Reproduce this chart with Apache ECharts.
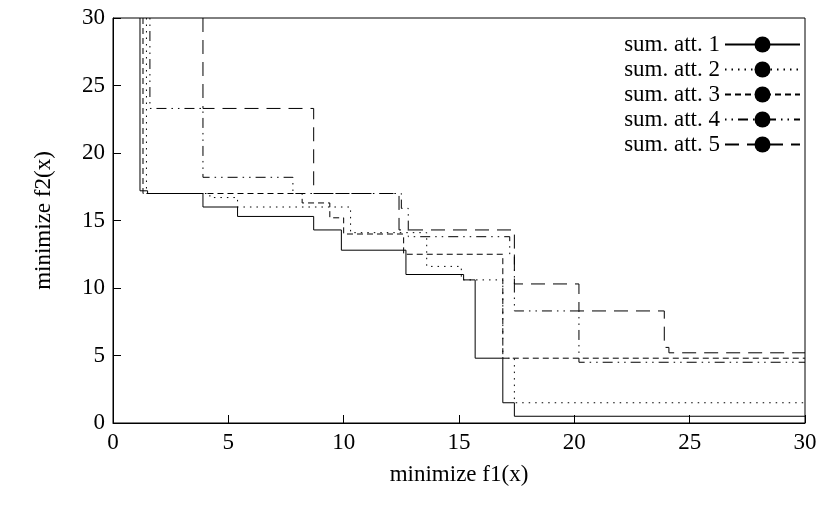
<!DOCTYPE html>
<html>
<head>
<meta charset="utf-8">
<script src="https://cdn.jsdelivr.net/npm/echarts@6/dist/echarts.min.js"></script>
<style>html,body{margin:0;background:#fff}#main{width:834px;height:515px}</style>
</head>
<body>
<div id="main"></div>
<script>
var names = ['sum. att. 1', 'sum. att. 2', 'sum. att. 3', 'sum. att. 4', 'sum. att. 5'];
var att1 = [[1.17,30],[1.17,17.2],[1.5,17.0],[3.9,16.0],[5.4,15.3],[8.7,14.3],[9.9,12.8],[12.7,11.0],[15.2,10.6],[15.7,4.8],[16.9,1.5],[17.4,0.5],[30,0.5]];
var att2 = [[1.45,30],[1.45,17.0],[4.2,16.7],[5.4,16.0],[10.3,14.1],[13.6,11.6],[15.1,10.6],[16.9,4.8],[17.4,1.5],[30,1.5]];
var att3 = [[1.3,30],[1.3,17.0],[8.2,16.3],[9.4,15.2],[10.0,14.0],[12.6,12.5],[16.9,4.8],[30,4.8]];
var att4 = [[1.6,30],[1.6,23.3],[3.9,18.2],[7.8,17.0],[12.5,15.9],[12.8,13.8],[17.2,12.5],[17.4,8.3],[20.2,4.5],[30,4.5]];
var att5 = [[3.9,30],[3.9,23.3],[8.7,17.0],[12.4,14.3],[17.4,10.3],[20.2,8.3],[23.9,5.6],[24.1,5.2],[30,5.2]];

var font = 'Liberation Serif';
var styles = [
  'solid',
  [1.5, 5],
  [6, 4],
  [1.5, 5, 1.5, 5, 10, 5],
  [14, 8]
];
var allData = [att1, att2, att3, att4, att5];
var chart = echarts.init(document.getElementById('main'));
function axis(name, gap) {
  return {
    type: 'value', min: 0, max: 30, interval: 5,
    name: name, nameLocation: 'middle', nameGap: gap,
    nameTextStyle: {fontFamily: font, fontSize: 23, color: '#000'},
    axisLine: {lineStyle: {color: '#000', width: 1}},
    axisTick: {inside: true, length: 8, lineStyle: {color: '#000'}},
    axisLabel: {fontFamily: font, fontSize: 23, color: '#000'},
    splitLine: {show: false}
  };
}
chart.setOption({
  animation: false,
  grid: {left: 113, right: 29, top: 18, bottom: 92, show: true, borderColor: '#000', borderWidth: 1},
  legend: {
    orient: 'vertical', right: 28, top: 28, align: 'right', itemGap: 2,
    itemWidth: 75, itemHeight: 20,
    textStyle: {fontFamily: font, fontSize: 23, color: '#000'},
    data: names
  },
  xAxis: axis('minimize f1(x)', 40),
  yAxis: axis('minimize f2(x)', 58),
  series: allData.map(function (d, i) {
    return {
      name: names[i], type: 'line', step: 'end', data: d,
      symbol: 'none', legendIcon: 'none',
      lineStyle: {color: '#000', width: 1, type: styles[i]},
      itemStyle: {color: '#000'}
    };
  })
});
</script>
</body>
</html>
